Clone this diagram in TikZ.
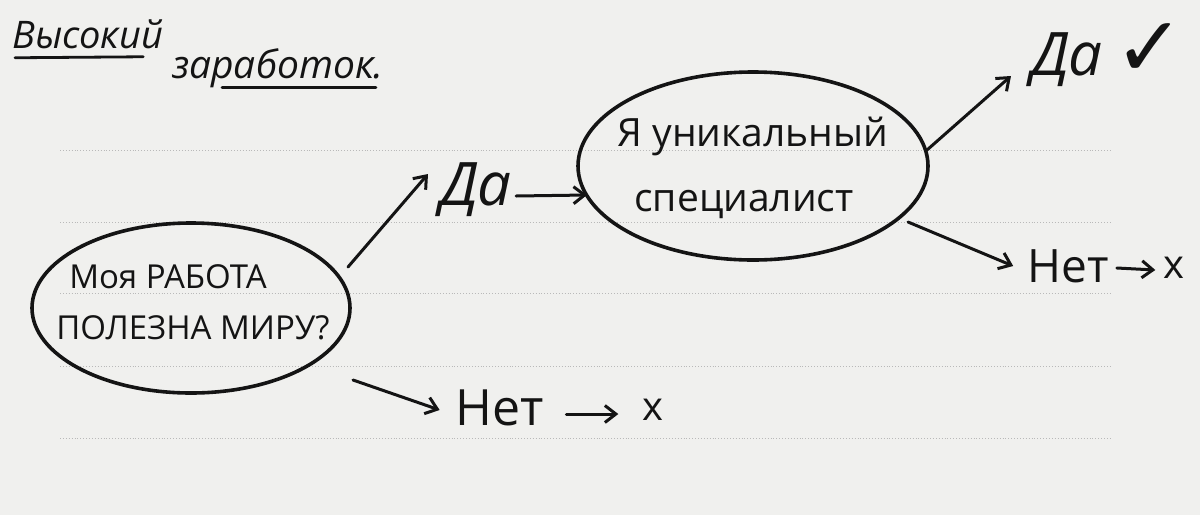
\documentclass[tikz,border=0pt]{standalone}
\usepackage{fontspec}
\setmainfont{Open Sans}
\newfontfamily\symfont{DejaVu Sans}
\usetikzlibrary{arrows.meta,shapes.geometric}
\definecolor{paper}{RGB}{240,240,238}
\definecolor{ink}{RGB}{20,20,20}
\definecolor{rule}{RGB}{185,185,185}
\tikzset{
  bubble/.style={draw=ink, line width=3.6pt, ellipse, inner sep=0pt},
  word/.style={text=ink, inner sep=2pt},
  link/.style={draw=ink, line width=3pt, line cap=round, -{Straight Barb[length=11pt,width=17pt,line width=3pt]}},
  ruleline/.style={draw=rule, line width=0.9pt, dotted},
  underl/.style={draw=ink, line width=2.8pt, line cap=round}
}
\begin{document}
\begin{tikzpicture}[x=1pt,y=-1pt]
\fill[paper] (0,0) rectangle (1200,515);
\useasboundingbox (0,0) rectangle (1200,515);
% ruled lines
\foreach \yy in {150,222,293,366,438} {
  \draw[ruleline] (60,\yy) -- (1110,\yy);
}
% title
\node[word, font=\itshape\fontsize{38}{38}\selectfont, anchor=west] (vys) at (10,34) {Высокий};
\node[word, font=\itshape\fontsize{39}{39}\selectfont, anchor=west] (zar) at (170,68) {заработок.};
\draw[underl] ([xshift=5pt,yshift=-7pt]vys.south west) -- ([xshift=-22pt,yshift=-6pt]vys.south east);
\draw[underl] ([xshift=52pt,yshift=2pt]zar.south west) -- ([xshift=-10pt,yshift=2pt]zar.south east);
% bubbles
\node[bubble, minimum width=318pt, minimum height=170pt] (e1) at (191,308) {};
\node[word, font=\fontsize{33}{33}\selectfont] (e1a) at (168,277) {Моя РАБОТА};
\node[word, font=\fontsize{33}{33}\selectfont] (e1b) at (193,328) {ПОЛЕЗНА МИРУ?};
\node[bubble, minimum width=350pt, minimum height=188pt] (e2) at (753,166) {};
\node[word, font=\fontsize{39}{39}\selectfont] (e2a) at (753,136) {Я уникальный};
\node[word, font=\fontsize{39}{39}\selectfont] (e2b) at (744,204) {специалист};
% answers
\node[word, font=\itshape\fontsize{60}{60}\selectfont] (da1) at (476,190) {Да};
\node[word, font=\itshape\fontsize{60}{60}\selectfont] (da2) at (1067,60) {Да};
\node[word, font=\symfont\fontsize{84}{84}\selectfont] (ok) at (1150,50) {✓};
\node[word, font=\fontsize{46}{46}\selectfont] (net2) at (1068,266) {Нет};
\node[word, font=\fontsize{40}{40}\selectfont] (x2) at (1174,268) {x};
\node[word, font=\fontsize{50}{50}\selectfont] (net1) at (500,408) {Нет};
\node[word, font=\fontsize{40}{40}\selectfont] (x1) at (653,410) {x};
% connectors
\draw[link] ([xshift=157pt,yshift=41pt]e1.center) -- ([xshift=-10pt,yshift=16pt]da1.west);
\draw[link] ([xshift=2pt,yshift=-6pt]da1.east) -- ([xshift=-166pt,yshift=-29pt]e2.center);
\draw[link] ([xshift=174pt,yshift=16pt]e2.center) -- ([xshift=-18pt,yshift=-16pt]da2.west);
\draw[link] ([xshift=155pt,yshift=-56pt]e2.center) -- ([xshift=-12pt,yshift=0pt]net2.west);
\draw[link] ([xshift=162pt,yshift=-72pt]e1.center) -- ([xshift=-14pt,yshift=-2pt]net1.west);
\draw[link] ([xshift=6pt,yshift=-2pt]net2.east) -- ([xshift=-6pt,yshift=-2pt]x2.west);
\draw[link] ([xshift=20pt,yshift=-6pt]net1.east) -- ([xshift=-22pt,yshift=-4pt]x1.west);
\end{tikzpicture}
\end{document}
